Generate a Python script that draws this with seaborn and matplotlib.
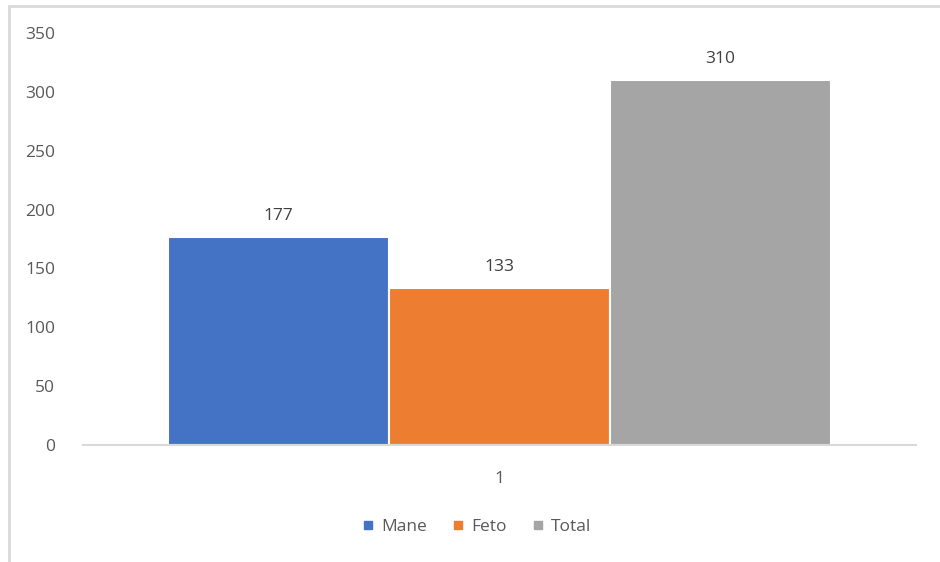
import matplotlib
matplotlib.use("Agg")
import matplotlib.pyplot as plt
import seaborn as sns
import pandas as pd
from matplotlib.lines import Line2D

# Chart data
categories = ["1", "1", "1"]
series = ["Mane", "Feto", "Total"]
values = [177, 133, 310]
colors = ["#4472c4", "#ed7d31", "#a5a5a5"]
y_ticks = [0, 50, 100, 150, 200, 250, 300, 350]

df = pd.DataFrame({"cat": categories, "series": series, "value": values})

sns.set_style("white")
plt.rcParams["font.family"] = ["Open Sans", "DejaVu Sans"]

fig = plt.figure(figsize=(9.4, 5.62), dpi=100)
ax = fig.add_axes([83 / 940, 1 - 445 / 562, (916 - 83) / 940, (445 - 33) / 562])

sns.barplot(data=df, x="cat", y="value", hue="series", palette=colors,
            saturation=1, width=0.795, edgecolor="white", linewidth=1.5,
            ax=ax, legend=False)

# value labels above bars
for patch, v in zip(ax.patches, values):
    ax.text(patch.get_x() + patch.get_width() / 2, v + 11, str(v),
            ha="center", va="bottom", fontsize=12.5, color="#404040")

ax.set_ylim(0, 350)
ax.set_yticks(y_ticks)
ax.set_xlim(-0.5, 0.5)
ax.set_xlabel("")
ax.set_ylabel("")
ax.tick_params(axis="both", length=0, labelsize=12.5, colors="#595959")
ax.tick_params(axis="y", pad=20)
ax.tick_params(axis="x", pad=19)
for s in ["top", "right", "left"]:
    ax.spines[s].set_visible(False)
ax.spines["bottom"].set_color("#d9d9d9")
ax.spines["bottom"].set_linewidth(1.5)

# legend below the axis
handles = [Line2D([0], [0], marker="s", linestyle="", markersize=6,
                  markerfacecolor=c, markeredgecolor=c) for c in colors]
fig.legend(handles, series, loc="center", bbox_to_anchor=(477 / 940, 1 - 527 / 562),
           ncol=3, frameon=False, fontsize=12.5, handletextpad=0.45,
           columnspacing=1.5, handlelength=0.6, labelcolor="#595959")

# chart frame (light gray)
fig.add_artist(Line2D([9 / 940, 9 / 940], [0, 1 - 6 / 562], color="#d9d9d9",
                      linewidth=2, transform=fig.transFigure))
fig.add_artist(Line2D([9 / 940, 1], [1 - 6 / 562, 1 - 6 / 562], color="#d9d9d9",
                      linewidth=2, transform=fig.transFigure))

fig.savefig("out.png", dpi=100)
